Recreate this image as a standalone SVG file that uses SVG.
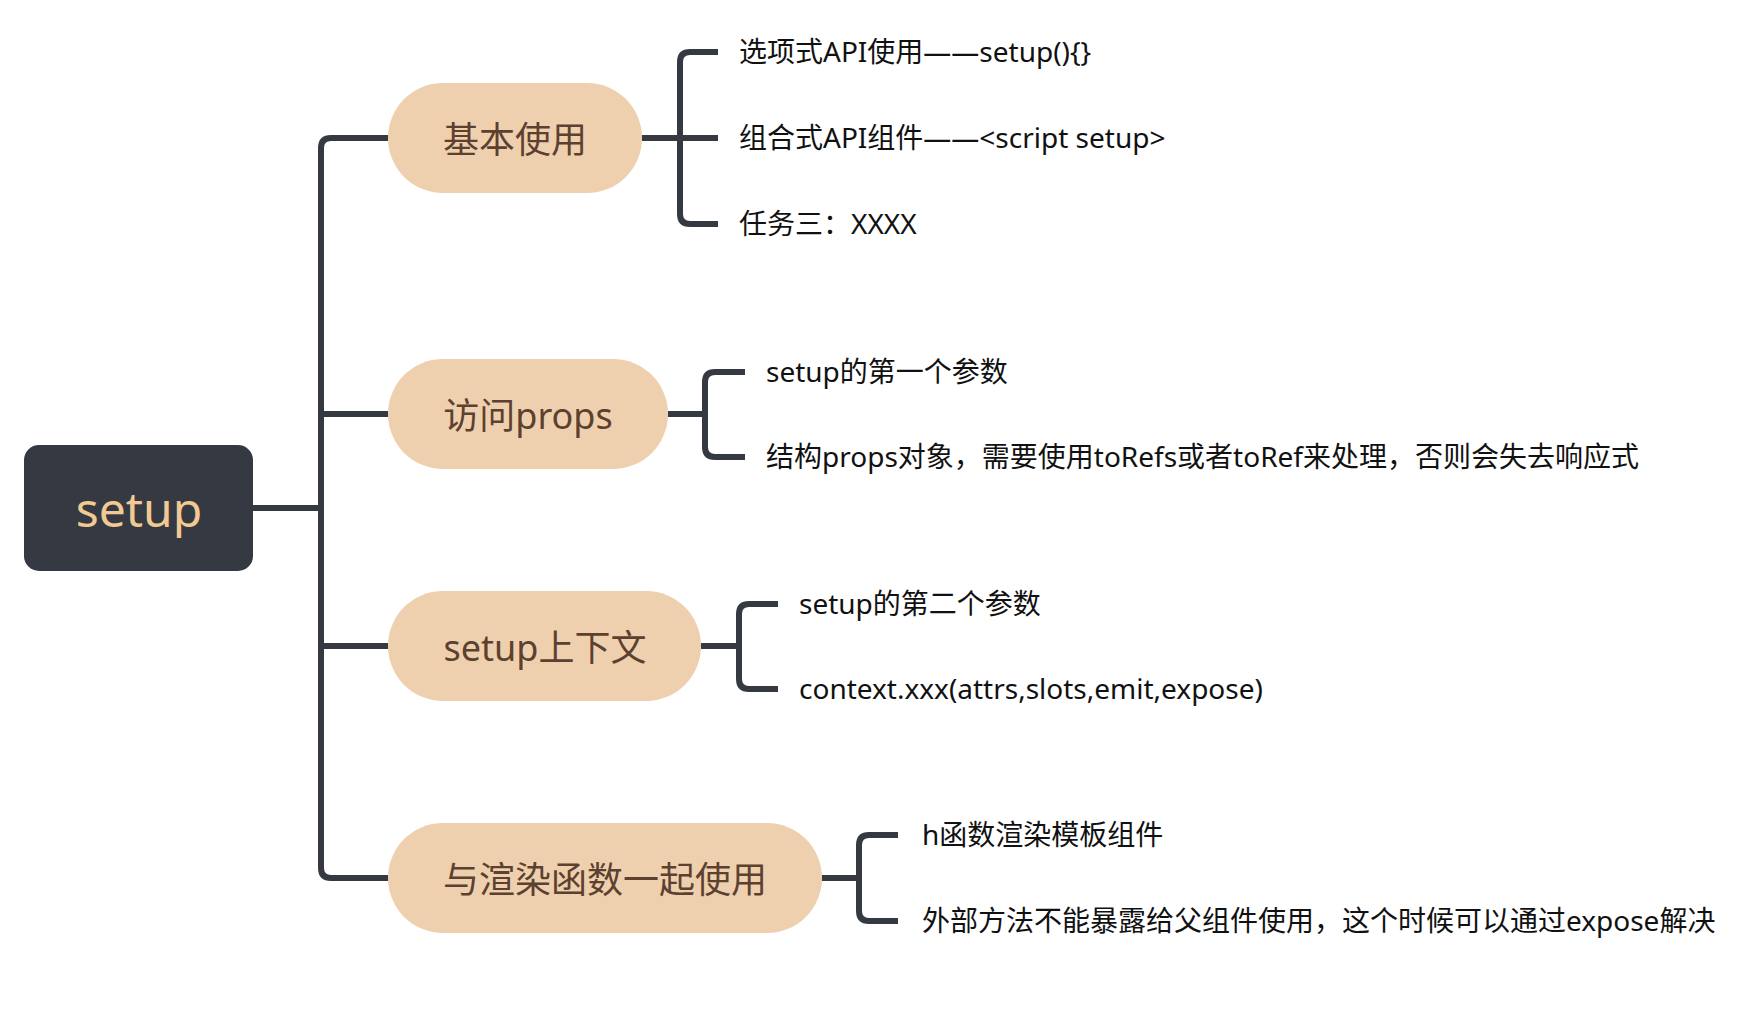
<svg xmlns="http://www.w3.org/2000/svg" width="1750" height="1010" viewBox="0 0 1750 1010">
<style>
.ln{fill:none;stroke:#353A42;stroke-width:6;stroke-linejoin:round}
.pill{fill:#EFD0AE}
.pt{font-family:"Noto Sans","Noto Sans CJK SC",sans-serif;font-size:36px;fill:#5C4130;text-anchor:middle}
.lt{font-family:"Noto Sans","Noto Sans CJK SC",sans-serif;font-size:28px;fill:#111}
.rt{font-family:"Noto Sans","Noto Sans CJK SC",sans-serif;font-size:48px;fill:#F2C993;text-anchor:middle}
</style>
<rect width="1750" height="1010" fill="#fff"/>
<g id="connectors">
<path class="ln" d="M253 508 H321"/>
<path class="ln" d="M388 138 H331 Q321 138 321 148 V868 Q321 878 331 878 H388"/>
<path class="ln" d="M321 414 H388"/>
<path class="ln" d="M321 646 H388"/>
<path class="ln" d="M642 138 H718"/>
<path class="ln" d="M718 52 H690 Q680 52 680 62 V214 Q680 224 690 224 H718"/>
<path class="ln" d="M668 414 H705"/>
<path class="ln" d="M745 372 H715 Q705 372 705 382 V447 Q705 457 715 457 H745"/>
<path class="ln" d="M701 646 H739"/>
<path class="ln" d="M778 604 H749 Q739 604 739 614 V679 Q739 689 749 689 H778"/>
<path class="ln" d="M822 878 H859"/>
<path class="ln" d="M898 835 H869 Q859 835 859 845 V911 Q859 921 869 921 H898"/>
</g>
<g id="root">
<rect x="24" y="445" width="229" height="126" rx="15" fill="#353A42"/>
<text class="rt" x="139" y="527">setup</text>
</g>
<g id="n1">
<rect class="pill" x="388" y="83" width="254" height="110" rx="55"/>
<text class="pt" x="515" y="153">基本使用</text>
</g>
<g id="n2">
<rect class="pill" x="388" y="359" width="280" height="110" rx="55"/>
<text class="pt" x="528" y="429">访问props</text>
</g>
<g id="n3">
<rect class="pill" x="388" y="591" width="313" height="110" rx="55"/>
<text class="pt" x="545" y="661">setup上下文</text>
</g>
<g id="n4">
<rect class="pill" x="388" y="823" width="434" height="110" rx="55"/>
<text class="pt" x="605" y="893">与渲染函数一起使用</text>
</g>
<g id="l1"><text class="lt" x="739" y="62">选项式API使用——setup(){}</text></g>
<g id="l2"><text class="lt" x="739" y="148">组合式API组件——&lt;script setup&gt;</text></g>
<g id="l3"><text class="lt" x="739" y="234">任务三：XXXX</text></g>
<g id="l4"><text class="lt" x="766" y="382">setup的第一个参数</text></g>
<g id="l5"><text class="lt" x="766" y="467">结构props对象，需要使用toRefs或者toRef来处理，否则会失去响应式</text></g>
<g id="l6"><text class="lt" x="799" y="614">setup的第二个参数</text></g>
<g id="l7"><text class="lt" x="799" y="699">context.xxx(attrs,slots,emit,expose)</text></g>
<g id="l8"><text class="lt" x="922" y="845">h函数渲染模板组件</text></g>
<g id="l9"><text class="lt" x="922" y="931">外部方法不能暴露给父组件使用，这个时候可以通过expose解决</text></g>
</svg>
